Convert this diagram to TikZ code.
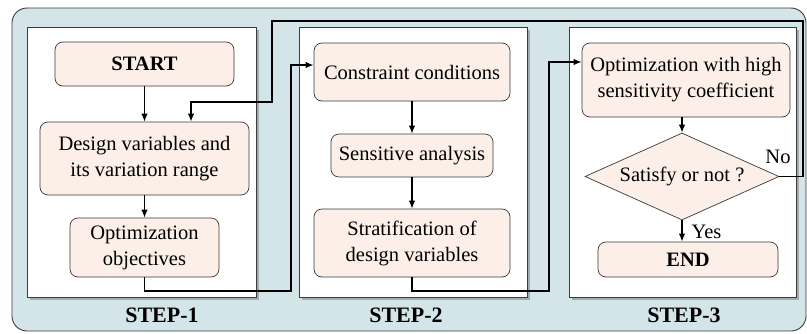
\documentclass[tikz,border=0pt]{standalone}
\usepackage{fontspec}
\setmainfont{Liberation Serif}
\usetikzlibrary{shapes.geometric,shadows,calc,arrows.meta}
\definecolor{bgblue}{HTML}{D4E5EA}
\definecolor{boxfill}{HTML}{FCEFE7}
\definecolor{edgegrey}{HTML}{3A3A3A}
\tikzset{
  panel/.style={draw=edgegrey, line width=0.9pt, fill=white,
    drop shadow={shadow xshift=2.5pt, shadow yshift=-2.5pt, opacity=0.45, fill=black!60}},
  procbox/.style={draw=edgegrey, line width=0.7pt, fill=boxfill, rounded corners=8pt,
    align=center, inner sep=0pt, font=\fontsize{20.5}{26}\selectfont},
  decbox/.style={draw=edgegrey, line width=0.7pt, fill=boxfill, diamond, aspect=2.23,
    inner sep=0pt, minimum width=194pt, minimum height=87pt,
    font=\fontsize{20.5}{26}\selectfont},
  steplabel/.style={font=\fontsize{22}{26}\selectfont\bfseries},
  arr/.style={-{Latex[length=8pt,width=6.5pt]}, line width=1.3pt, black},
}
\begin{document}
\begin{tikzpicture}[x=1pt, y=-1pt]
\useasboundingbox (0,0) rectangle (807,333);
% background frame
\draw[draw=edgegrey, line width=0.9pt, fill=bgblue, rounded corners=15pt] (12,8) rectangle (806,331);

% three stage panels
\draw[panel] (27,27) rectangle (256,297);
\draw[panel] (299,27) rectangle (527,297);
\draw[panel] (569,27) rectangle (796,297);

\node[steplabel] (lab1) at (162,315) {STEP-1};
\node[steplabel] (lab2) at (406,315) {STEP-2};
\node[steplabel] (lab3) at (684,315) {STEP-3};

% step 1
\node[procbox, minimum width=179pt, minimum height=44pt] (start) at (144.5,64) {\bfseries START};
\node[procbox, minimum width=209pt, minimum height=73pt] (design) at (144.5,158.5) {Design variables and\\its variation range};
\node[procbox, minimum width=149pt, minimum height=59pt] (obj) at (144.5,247.5) {Optimization\\objectives};

% step 2
\node[procbox, minimum width=196pt, minimum height=58pt] (cons) at (412,72) {Constraint conditions};
\node[procbox, minimum width=162pt, minimum height=43pt] (sens) at (412,155.5) {Sensitive analysis};
\node[procbox, minimum width=196pt, minimum height=68pt] (strat) at (412,243) {Stratification of\\design variables};

% step 3
\node[procbox, minimum width=208pt, minimum height=74pt] (opt) at (686,80) {Optimization with high\\sensitivity coefficient};
\node[decbox] (dec) at (682,176.5) {Satisfy or not ?};
\node[procbox, minimum width=180pt, minimum height=35pt] (fin) at (688,259.5) {\bfseries END};

\node[font=\fontsize{20.5}{26}\selectfont] (no) at (778,157) {No};
\node[font=\fontsize{20.5}{26}\selectfont, anchor=west] (yes) at (688,232) {Yes};

% routing points
\coordinate (a1) at (291,291);
\coordinate (a2) at (291,65);
\coordinate (b1) at (549,291);
\coordinate (b2) at (549,62);
\coordinate (c1) at (803,176.5);
\coordinate (c2) at (803,21);
\coordinate (c3) at (272,21);
\coordinate (c4) at (272,102);
\coordinate (c5) at (191,102);

% connectors
\draw[arr] (start) -- (design);
\draw[arr] (design) -- (obj);
\draw[arr] (cons) -- (sens);
\draw[arr] (sens) -- (strat);
\draw[arr] (dec.north |- opt.south) -- (dec.north);
\draw[arr] (dec.south) -- (dec.south |- fin.north);
\draw[arr] (obj.south) |- (a1) -- (a2) -- (a2 -| cons.west);
\draw[arr] (strat.south) |- (b1) -- (b2) -- (b2 -| opt.west);
\draw[arr] (dec.east) -- (c1) -- (c2) -- (c3) -- (c4) -- (c5) -- (c5 |- design.north);
\end{tikzpicture}
\end{document}
